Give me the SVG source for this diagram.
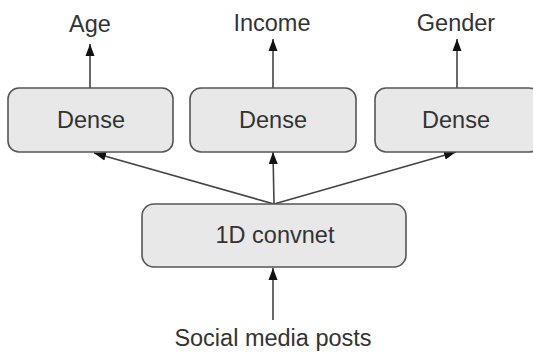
<svg xmlns="http://www.w3.org/2000/svg" width="533" height="354" viewBox="0 0 533 354">
<style>
.box{fill:#e8e8e8;stroke:#555;stroke-width:1.6}
.t{font-family:"Liberation Sans",Arial,sans-serif;font-size:23.5px;fill:#333;text-anchor:middle}
.c{stroke:#444;stroke-width:1.6;fill:none;marker-end:url(#ah)}
</style>
<defs>
<marker id="ah" markerWidth="12" markerHeight="12" viewBox="0 0 12 10" refX="12" refY="5" orient="auto" markerUnits="userSpaceOnUse">
<path d="M0,0.5 L12,5 L0,9.5 Z" fill="#111"/>
</marker>
</defs>
<rect width="533" height="354" fill="#fff"/>
<g id="connectors">
<line class="c" x1="90" y1="88" x2="90" y2="44"/>
<line class="c" x1="273" y1="88" x2="273" y2="39"/>
<line class="c" x1="457" y1="88" x2="457" y2="39"/>
<line class="c" x1="274" y1="204" x2="94" y2="153"/>
<line class="c" x1="274" y1="204" x2="273" y2="152"/>
<line class="c" x1="274" y1="204" x2="456" y2="152"/>
<line class="c" x1="273" y1="320" x2="273" y2="268"/>
</g>
<g id="age"><text class="t" x="90" y="32">Age</text></g>
<g id="income"><text class="t" x="272" y="31">Income</text></g>
<g id="gender"><text class="t" x="456" y="31">Gender</text></g>
<g id="dense1"><rect class="box" x="8" y="88" width="165" height="64" rx="11"/><text class="t" x="91" y="128">Dense</text></g>
<g id="dense2"><rect class="box" x="190" y="88" width="166" height="64" rx="11"/><text class="t" x="273" y="128">Dense</text></g>
<g id="dense3"><rect class="box" x="375" y="88" width="165" height="64" rx="11"/><text class="t" x="456" y="128">Dense</text></g>
<g id="convnet"><rect class="box" x="142" y="204" width="264" height="63" rx="12"/><text class="t" x="275" y="243">1D convnet</text></g>
<g id="posts"><text class="t" x="273" y="346">Social media posts</text></g>
</svg>
